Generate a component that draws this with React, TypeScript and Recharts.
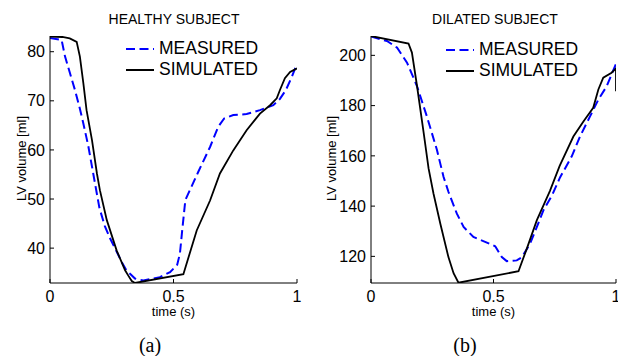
import { LineChart, Line, XAxis, YAxis, Legend } from "recharts";

const FONT = "'Liberation Sans', Arial, Helvetica, sans-serif";
const SERIF = "'Liberation Serif', 'Times New Roman', serif";
const BLUE = "#0000ff";
const DASH = "9 4.5";

const TIME_TICKS = [0, 0.5, 1];

// healthy heart, one beat
const healthyMeasuredT = [0, 0.047, 0.061, 0.081, 0.101, 0.121, 0.135, 0.155, 0.175, 0.2, 0.222, 0.243, 0.265, 0.29, 0.31, 0.324, 0.344, 0.378, 0.445, 0.486, 0.515, 0.526, 0.535, 0.548, 0.6, 0.648, 0.681, 0.705, 0.742, 0.796, 0.85, 0.904, 0.931, 0.955, 0.98, 1.0];
const healthyMeasuredV = [82.8, 82.4, 79.0, 75.6, 72.2, 68.4, 65.4, 60.8, 55.2, 48.2, 44.5, 42.0, 39.8, 37.2, 35.4, 34.8, 33.8, 33.4, 34.1, 35.1, 36.6, 38.9, 43.5, 49.8, 55.5, 60.6, 64.7, 66.4, 67.1, 67.3, 68.1, 69.1, 70.4, 72.2, 75.0, 77.6];
const healthySimulatedT = [0, 0.05, 0.08, 0.108, 0.121, 0.135, 0.148, 0.17, 0.19, 0.202, 0.23, 0.27, 0.304, 0.317, 0.331, 0.344, 0.54, 0.594, 0.648, 0.688, 0.742, 0.796, 0.85, 0.891, 0.918, 0.931, 0.951, 0.972, 1.0];
const healthySimulatedV = [83.1, 83.0, 82.7, 82.0, 79.0, 73.6, 68.1, 62.0, 55.2, 51.8, 45.7, 39.5, 35.5, 34.4, 33.3, 32.9, 34.7, 43.6, 49.7, 55.2, 59.9, 64.0, 67.4, 69.1, 70.5, 72.2, 74.6, 75.9, 76.6];
const healthyTicks = [40, 50, 60, 70, 80];

// dilated ventricle
const dilatedMeasuredT = [0, 0.065, 0.106, 0.147, 0.188, 0.228, 0.269, 0.296, 0.316, 0.35, 0.378, 0.418, 0.473, 0.507, 0.534, 0.554, 0.595, 0.616, 0.649, 0.677, 0.704, 0.74, 0.772, 0.819, 0.853, 0.894, 0.928, 0.962, 1.0];
const dilatedMeasuredV = [207.5, 205.7, 203.1, 197.1, 187.7, 175.7, 162.4, 151.7, 145.7, 137.1, 131.7, 127.7, 125.5, 124.0, 119.7, 118.1, 118.4, 119.7, 125.0, 131.7, 138.4, 144.5, 151.5, 159.7, 167.7, 175.7, 182.4, 187.7, 196.6];
const dilatedSimulatedT = [0, 0.153, 0.167, 0.188, 0.215, 0.235, 0.255, 0.283, 0.316, 0.337, 0.357, 0.602, 0.636, 0.677, 0.73, 0.77, 0.826, 0.867, 0.907, 0.928, 0.948, 0.982, 0.996, 1.0, 1.0];
const dilatedSimulatedV = [207.7, 204.7, 201.1, 187.7, 169.1, 155.0, 145.0, 133.0, 119.7, 113.3, 109.5, 114.1, 123.1, 134.4, 146.0, 156.0, 167.7, 173.7, 179.1, 186.4, 191.1, 193.1, 194.4, 194.8, 185.7];
const dilatedTicks = [120, 140, 160, 180, 200];

type Pt = { t: number; v: number };

function zip(t: number[], v: number[]): Pt[] {
  return t.map((x, i) => ({ t: x, v: v[i] }));
}

const tickStyle = { fill: "#000", fontSize: 16, fontFamily: FONT };
const noLabel = () => <g />;

function LegendBox({ payload }: any) {
  return (
    <div style={{ fontFamily: FONT, fontSize: 17.5, lineHeight: "21px", color: "#000" }}>
      {(payload ?? []).map((entry: any) => (
        <div key={entry.value} style={{ display: "flex", alignItems: "center", height: 21, whiteSpace: "nowrap" }}>
          <svg width={28} height={4} style={{ marginRight: 5 }}>
            <line
              x1={0}
              y1={2}
              x2={28}
              y2={2}
              stroke={entry.color}
              strokeWidth={2}
              strokeDasharray={entry.payload?.strokeDasharray}
            />
          </svg>
          <span>{entry.value}</span>
        </div>
      ))}
    </div>
  );
}

interface PanelProps {
  left: number;
  title: string;
  tag: string;
  measured: Pt[];
  simulated: Pt[];
  domain: [number, number];
  yTicks: number[];
  yAxisWidth: number;
  marginRight: number;
  legendLeft: number;
  legendTop: number;
  titleX: number;
  tagX: number;
  yLabelX: number;
}

const W = 309;
const H = 356;
const PLOT_TOP = 36;
const PLOT_BOTTOM = 283;

function Panel(p: PanelProps) {
  const plotMid = (p.yAxisWidth + W - p.marginRight) / 2;
  const text = { position: "absolute" as const, fontFamily: FONT, color: "#000", whiteSpace: "nowrap" as const, textAlign: "center" as const, width: 200 };
  return (
    <div style={{ position: "absolute", left: p.left, top: 0, width: W, height: H }}>
      <div style={{ ...text, left: p.titleX - 100, top: 11.5, fontSize: 14, lineHeight: "14px" }}>{p.title}</div>
      <div
        style={{
          ...text,
          left: p.yLabelX - 100,
          top: (PLOT_TOP + PLOT_BOTTOM) / 2 - 1.5 - 7.5,
          fontSize: 13,
          lineHeight: "15px",
          transform: "rotate(-90deg)",
        }}
      >
        LV volume [ml]
      </div>
      <div style={{ ...text, left: plotMid - 100, top: 305.5, fontSize: 13, lineHeight: "11px" }}>time (s)</div>
      <div style={{ ...text, left: p.tagX - 100, top: 335, fontSize: 20, lineHeight: "20px", fontFamily: SERIF }}>{p.tag}</div>
      <LineChart
        width={W}
        height={H}
        margin={{ top: PLOT_TOP, right: p.marginRight, left: 0, bottom: H - PLOT_BOTTOM - 30 }}
      >
        <XAxis
          type="number"
          dataKey="t"
          domain={[0, 1]}
          ticks={TIME_TICKS}
          interval={0}
          height={30}
          stroke="#000"
          tickSize={-4}
          tickMargin={11.5}
          tick={tickStyle}
          allowDataOverflow
        />
        <XAxis
          xAxisId="top"
          orientation="top"
          type="number"
          domain={[0, 1]}
          ticks={TIME_TICKS}
          interval={0}
          height={0}
          stroke="#000"
          tickSize={-4}
          tick={noLabel}
          allowDataOverflow
        />
        <YAxis
          type="number"
          domain={p.domain}
          ticks={p.yTicks}
          interval={0}
          width={p.yAxisWidth}
          stroke="#000"
          tickSize={-4}
          tickMargin={9}
          tick={tickStyle}
          allowDataOverflow
        />
        <YAxis
          yAxisId="right"
          orientation="right"
          type="number"
          domain={p.domain}
          ticks={p.yTicks}
          interval={0}
          width={0}
          stroke="#000"
          tickSize={-4}
          tick={noLabel}
          allowDataOverflow
        />
        <Legend
          layout="horizontal"
          verticalAlign="middle"
          align="center"
          content={LegendBox}
          wrapperStyle={{ left: p.legendLeft, top: p.legendTop, width: 160 }}
        />
        <Line
          data={p.measured}
          dataKey="v"
          name="MEASURED"
          type="linear"
          stroke={BLUE}
          strokeWidth={2}
          strokeDasharray={DASH}
          dot={false}
          activeDot={false}
          isAnimationActive={false}
        />
        <Line
          data={p.simulated}
          dataKey="v"
          name="SIMULATED"
          type="linear"
          stroke="#000"
          strokeWidth={1.8}
          dot={false}
          activeDot={false}
          isAnimationActive={false}
        />
      </LineChart>
    </div>
  );
}

export default function App() {
  return (
    <div style={{ position: "absolute", left: 0, top: 0, width: 618, height: 356, background: "#fff", overflow: "hidden" }}>
      <Panel
        left={0}
        title="HEALTHY SUBJECT"
        tag="(a)"
        measured={zip(healthyMeasuredT, healthyMeasuredV)}
        simulated={zip(healthySimulatedT, healthySimulatedV)}
        domain={[32.9, 83.2]}
        yTicks={healthyTicks}
        yAxisWidth={50}
        marginRight={12}
        legendLeft={126}
        legendTop={38}
        titleX={174}
        tagX={150}
        yLabelX={20.5}
      />
      <Panel
        left={309}
        title="DILATED SUBJECT"
        tag="(b)"
        measured={zip(dilatedMeasuredT, dilatedMeasuredV)}
        simulated={zip(dilatedSimulatedT, dilatedSimulatedV)}
        domain={[109.4, 207.7]}
        yTicks={dilatedTicks}
        yAxisWidth={62}
        marginRight={2}
        legendLeft={137}
        legendTop={39}
        titleX={186}
        tagX={156}
        yLabelX={21.5}
      />
    </div>
  );
}
